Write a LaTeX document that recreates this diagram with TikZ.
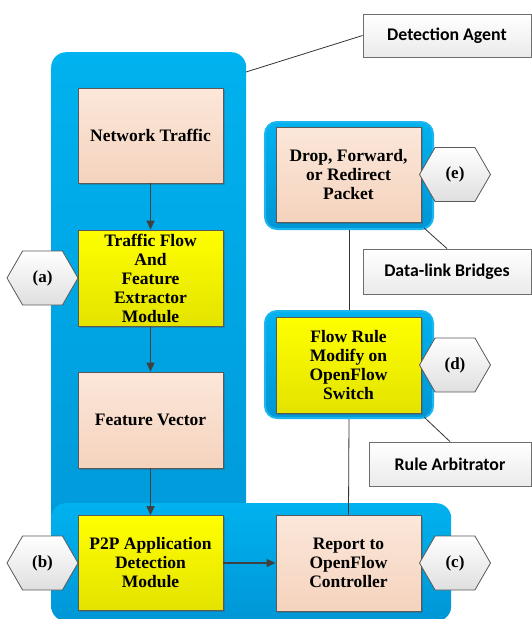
\documentclass[tikz,border=0pt]{standalone}
\usepackage{fontspec}
\setmainfont{Liberation Serif}
\newfontfamily\labelfont{Carlito}
\usetikzlibrary{arrows.meta,shapes.symbols,shadows}

\definecolor{edgegray}{HTML}{595959}
\definecolor{notegray}{HTML}{6E6E6E}
\definecolor{arrowgray}{HTML}{404040}
\definecolor{peachtop}{HTML}{FBE7DA}
\definecolor{peachbot}{HTML}{F5D3BD}
\definecolor{yeltop}{HTML}{FFFF00}
\definecolor{yelbot}{HTML}{E3E300}
\definecolor{paneltop}{HTML}{00B2EF}
\definecolor{panelbot}{HTML}{0096D6}
\definecolor{panelrim}{HTML}{1CB6EE}

\tikzset{
  box/.style={draw=edgegray, line width=0.8pt, minimum width=145pt,
    minimum height=95pt, inner sep=2pt, align=center,
    font=\fontsize{17.5}{19}\selectfont\bfseries,
    drop shadow={shadow xshift=1.8pt, shadow yshift=-1.8pt, opacity=0.3, fill=black!70}},
  peachbox/.style={box, top color=peachtop, bottom color=peachbot},
  yellowbox/.style={box, top color=yeltop, bottom color=yelbot},
  tag/.style={draw=edgegray, line width=0.8pt, signal, signal to=west and east,
    signal pointer angle=120, minimum width=71pt, minimum height=54pt,
    inner sep=0pt, top color=white, bottom color=gray!25,
    font=\fontsize{17}{19}\selectfont\bfseries},
  note/.style={draw=notegray, line width=0.8pt, top color=white, bottom color=gray!16,
    font=\labelfont\fontsize{17.8}{20}\selectfont\bfseries, inner sep=0pt,
    drop shadow={shadow xshift=1.2pt, shadow yshift=-1.2pt, opacity=0.2, fill=black!60}},
  panel/.style={rounded corners=15pt, top color=paneltop, bottom color=panelbot,
    inner sep=0pt},
  smallpanel/.style={rounded corners=12pt, draw=panelrim, line width=2pt,
    top color=paneltop, bottom color=panelbot, inner sep=0pt,
    minimum width=168pt, minimum height=107pt},
  link/.style={draw=black!80, line width=0.8pt},
  flow/.style={draw=arrowgray, line width=1.2pt, -{Triangle[length=9pt,width=8pt]}},
}

\begin{document}
\begin{tikzpicture}[x=1pt,y=-1pt]
\useasboundingbox (0,0) rectangle (532,619);

% blue background panels
\node[panel, minimum width=195pt, minimum height=560pt, anchor=north west]
  (leftpanel) at (51,52) {};
\node[panel, minimum width=400pt, minimum height=118pt, anchor=north west]
  (bottompanel) at (51,503) {};
\node[smallpanel] (droppanel) at (349,175.5) {};
\node[smallpanel] (flowpanel) at (349,364.5) {};

% anchor points for the callout lines
\coordinate (agenttip) at (246,72);
\coordinate (bridgetip) at (424,228);
\coordinate (rulertip) at (424,417);

% callout notes
\node[note, minimum width=168pt, minimum height=43pt] (agent) at (447,35.5) {Detection Agent};
\node[note, minimum width=168pt, minimum height=45pt] (bridges) at (447,271.5) {Data-link Bridges};
\node[note, minimum width=162pt, minimum height=44pt] (arbiter) at (450,464) {Rule Arbitrator};

\draw[link] (agenttip) -- (agent.west);
\draw[link] (bridgetip) -- (bridges.north);
\draw[link] (rulertip) -- (arbiter.north);

% processing steps
\node[peachbox] (traffic) at (150.5,135.5) {Network Traffic};
\node[yellowbox, minimum height=96pt] (extract) at (150.5,278) {Traffic Flow\\And\\Feature\\Extractor\\Module};
\node[peachbox, minimum height=96pt] (vector) at (150.5,420) {Feature Vector};
\node[yellowbox] (detect) at (150.5,563) {P2P Application\\Detection\\Module};
\node[peachbox, minimum height=96pt] (report) at (348.5,563) {Report to\\OpenFlow\\Controller};
\node[yellowbox, minimum height=96pt] (rule) at (348.5,365) {Flow Rule\\Modify on\\OpenFlow\\Switch};
\node[peachbox] (drop) at (348.5,174.5) {Drop, Forward,\\or Redirect\\Packet};

% vertical links between the right-hand steps
\draw[link] (droppanel.south) -- (flowpanel.north);
\draw[link] (flowpanel.south) -- (report.north);

% step labels
\node[tag] (taga) at (42.5,278) {(a)};
\node[tag] (tagb) at (42.5,563) {(b)};
\node[tag] (tagc) at (455,563) {(c)};
\node[tag] (tagd) at (455,365) {(d)};
\node[tag] (tage) at (455,174.5) {(e)};

% data flow arrows
\draw[flow] (traffic.south) -- (extract.north);
\draw[flow] (extract.south) -- (vector.north);
\draw[flow] (vector.south) -- (detect.north);
\draw[flow] (detect.east) -- (report.west);
\end{tikzpicture}
\end{document}
